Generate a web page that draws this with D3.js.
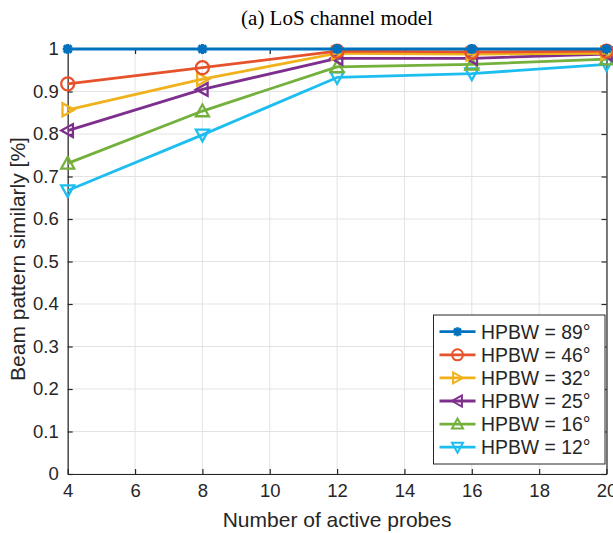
<!DOCTYPE html>
<html>
<head>
<meta charset="utf-8">
<script src="https://cdn.jsdelivr.net/npm/d3@7"></script>
<style>
  html, body { margin: 0; padding: 0; background: #fff; overflow: hidden; }
  svg { display: block; }
</style>
</head>
<body>
<svg id="chart" width="613" height="533"></svg>
<script>
// Number of active probes
const probes = [4, 8, 12, 16, 20];

// Beam pattern similarity for each half-power beamwidth
const hpbw89 = [1.000, 1.000, 1.000, 1.000, 1.000];
const hpbw46 = [0.918, 0.956, 0.995, 0.993, 0.995];
const hpbw32 = [0.857, 0.929, 0.990, 0.988, 0.990];
const hpbw25 = [0.808, 0.905, 0.978, 0.978, 0.988];
const hpbw16 = [0.731, 0.854, 0.958, 0.964, 0.976];
const hpbw12 = [0.667, 0.798, 0.933, 0.942, 0.964];

const seriesNames = ["HPBW = 89°", "HPBW = 46°", "HPBW = 32°", "HPBW = 25°", "HPBW = 16°", "HPBW = 12°"];
const seriesValues = [hpbw89, hpbw46, hpbw32, hpbw25, hpbw16, hpbw12];
const seriesMarkers = ["asterisk", "circle", "right", "left", "up", "down"];
const seriesColors = ["#0072BD", "#E6522B", "#F0B21A", "#7E2F8E", "#74B03C", "#1DBEEF"];

const xTicks = [4, 6, 8, 10, 12, 14, 16, 18, 20];
const yTicks = [0, 0.1, 0.2, 0.3, 0.4, 0.5, 0.6, 0.7, 0.8, 0.9, 1];

const titleText = "(a) LoS channel model";
const xLabel = "Number of active probes";
const yLabel = "Beam pattern similarly [%]";

const svg = d3.select("#chart");
const plot = { left: 67.7, right: 606.5, top: 49, bottom: 474 };

const x = d3.scaleLinear().domain([4, 20]).range([plot.left, plot.right]);
const y = d3.scaleLinear().domain([0, 1]).range([plot.bottom, plot.top]);

const font = "'Liberation Sans', Arial, Helvetica, sans-serif";
const axisColor = "#262626";

// grid
const grid = svg.append("g");
grid.selectAll(".gx").data(xTicks).join("line")
  .attr("x1", d => x(d)).attr("x2", d => x(d))
  .attr("y1", plot.top).attr("y2", plot.bottom)
  .attr("stroke", "#e3e3e3").attr("stroke-width", 1);
grid.selectAll(".gy").data(yTicks).join("line")
  .attr("x1", plot.left).attr("x2", plot.right)
  .attr("y1", d => y(d)).attr("y2", d => y(d))
  .attr("stroke", "#e3e3e3").attr("stroke-width", 1);

// axes (box with inward ticks)
const tickLen = 5;
const axB = d3.axisBottom(x).tickValues(xTicks).tickSizeInner(-tickLen).tickSizeOuter(0).tickPadding(10);
const axT = d3.axisTop(x).tickValues(xTicks).tickSizeInner(-tickLen).tickSizeOuter(0).tickFormat("");
const axL = d3.axisLeft(y).tickValues(yTicks).tickSizeInner(-tickLen).tickSizeOuter(0).tickPadding(9)
  .tickFormat(d => d === 0 ? "0" : d === 1 ? "1" : d3.format(".1f")(d));
const axR = d3.axisRight(y).tickValues(yTicks).tickSizeInner(-tickLen).tickSizeOuter(0).tickFormat("");

function styleAxis(g) {
  g.selectAll(".domain").attr("stroke", axisColor).attr("stroke-width", 1.2);
  g.selectAll(".tick line").attr("stroke", axisColor).attr("stroke-width", 1.2);
  g.selectAll(".tick text").attr("fill", axisColor).attr("font-family", font).attr("font-size", 18.5);
}
svg.append("g").attr("transform", `translate(0,${plot.bottom})`).call(axB).call(styleAxis);
svg.append("g").attr("transform", `translate(0,${plot.top})`).call(axT).call(styleAxis);
svg.append("g").attr("transform", `translate(${plot.left},0)`).call(axL).call(styleAxis);
svg.append("g").attr("transform", `translate(${plot.right},0)`).call(axR).call(styleAxis);

// marker shapes
function markerPath(kind, s) {
  const r = s / 2;
  switch (kind) {
    case "circle": return d3.symbol(d3.symbolCircle, Math.PI * r * r)();
    case "up": return `M0,${-r}L${r},${r * 0.8}L${-r},${r * 0.8}Z`;
    case "down": return `M0,${r}L${r},${-r * 0.8}L${-r},${-r * 0.8}Z`;
    case "right": return `M${r},0L${-r * 0.8},${r}L${-r * 0.8},${-r}Z`;
    case "left": return `M${-r},0L${r * 0.8},${r}L${r * 0.8},${-r}Z`;
    case "asterisk": {
      const a = r * 0.75;
      return `M${-r},0L${r},0M0,${-r}L0,${r}M${-a},${-a}L${a},${a}M${-a},${a}L${a},${-a}`;
    }
  }
}

const line = d3.line().x(d => x(d[0])).y(d => y(d[1]));
const lines = svg.append("g");

// draw so the first series ends on top
seriesValues.map((vals, i) => i).reverse().forEach(i => {
  const pts = probes.map((p, k) => [p, seriesValues[i][k]]);
  const g = lines.append("g");
  g.append("path").datum(pts).attr("d", line)
    .attr("fill", "none").attr("stroke", seriesColors[i]).attr("stroke-width", 2.8)
    .attr("stroke-linejoin", "round");
  const size = seriesMarkers[i] === "asterisk" ? 10 : 13;
  g.selectAll("path.m").data(pts).join("path").attr("class", "m")
    .attr("transform", d => `translate(${x(d[0])},${y(d[1])})`)
    .attr("d", markerPath(seriesMarkers[i], size))
    .attr("fill", "none").attr("stroke", seriesColors[i])
    .attr("stroke-width", seriesMarkers[i] === "asterisk" ? 3 : 2.3);
});

// title and labels
svg.append("text").attr("x", 337).attr("y", 25)
  .attr("text-anchor", "middle").attr("font-family", "'Liberation Serif', 'Times New Roman', serif")
  .attr("font-size", 21).attr("fill", "#000").text(titleText);
svg.append("text").attr("x", (plot.left + plot.right) / 2).attr("y", 527)
  .attr("text-anchor", "middle").attr("font-family", font)
  .attr("font-size", 21).attr("fill", axisColor).text(xLabel);
svg.append("text").attr("transform", `translate(25,259) rotate(-90)`)
  .attr("text-anchor", "middle").attr("font-family", font)
  .attr("font-size", 21).attr("fill", axisColor).text(yLabel);

// legend
const lg = { x: 433.5, y: 315, w: 171.5, h: 149, row: 23.1 };
const legend = svg.append("g");
legend.append("rect").attr("x", lg.x).attr("y", lg.y).attr("width", lg.w).attr("height", lg.h)
  .attr("fill", "#fff").attr("stroke", axisColor).attr("stroke-width", 1);
seriesNames.forEach((name, i) => {
  const cy = lg.y + 16.7 + i * lg.row;
  legend.append("line").attr("x1", lg.x + 6).attr("x2", lg.x + 42).attr("y1", cy).attr("y2", cy)
    .attr("stroke", seriesColors[i]).attr("stroke-width", 2.8);
  legend.append("path").attr("transform", `translate(${lg.x + 24},${cy})`)
    .attr("d", markerPath(seriesMarkers[i], seriesMarkers[i] === "asterisk" ? 9 : 11))
    .attr("fill", "none").attr("stroke", seriesColors[i])
    .attr("stroke-width", seriesMarkers[i] === "asterisk" ? 2.6 : 2);
  legend.append("text").attr("x", lg.x + 47.5).attr("y", cy + 7)
    .attr("font-family", font).attr("font-size", 19.4).attr("fill", axisColor).text(name);
});
</script>
</body>
</html>
